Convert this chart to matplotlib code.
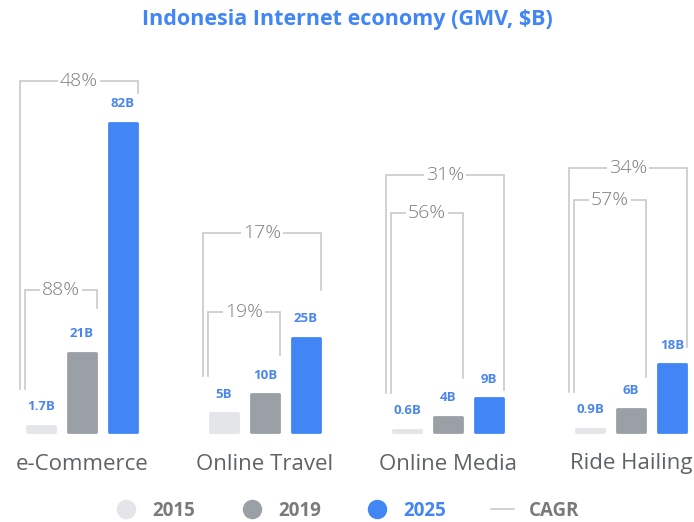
import matplotlib
matplotlib.use('Agg')
import matplotlib.pyplot as plt
from matplotlib.lines import Line2D

# data
categories = ['e-Commerce', 'Online Travel', 'Online Media', 'Ride Hailing']
years = ['2015', '2019', '2025']
gmv_2015 = [1.7, 5, 0.6, 0.9]
gmv_2019 = [21, 10, 4, 6]
gmv_2025 = [82, 25, 9, 18]
labels_2015 = ['1.7B', '5B', '0.6B', '0.9B']
labels_2019 = ['21B', '10B', '4B', '6B']
labels_2025 = ['82B', '25B', '9B', '18B']
cagr_2015_2019 = ['88%', '19%', '56%', '57%']
cagr_2015_2025 = ['48%', '17%', '31%', '34%']

# bracket levels (layout only, in $B units of the y axis)
inner_top = [37.7, 31.8, 58.1, 61.5]
inner_end = [32.9, 20.4, 14.3, 14.6]
outer_top = [93.1, 52.8, 68.2, 70.0]
outer_end = [89.9, 37.7, 11.1, 22.5]

colors = ['#e3e5e8', '#9aa0a6', '#4285f4']
label_blue = '#4a86ec'
line_gray = '#c9c9c9'
text_gray = '#7d7d7d'

plt.rcParams['font.family'] = ['Open Sans', 'DejaVu Sans']

W, H = 694, 522
fig = plt.figure(figsize=(W / 100, H / 100), dpi=100)
ax = fig.add_axes([0, 0, 1, 1])
GX = 183.0   # px per group
GY = 3.77    # px per $B
ax.set_xlim(-82 / GX, (W - 82) / GX)
ax.set_ylim(-90 / GY, (H - 90) / GY)
ax.axis('off')

step = 41 / GX
bw = 28 / GX
series = [gmv_2015, gmv_2019, gmv_2025]
series_labels = [labels_2015, labels_2019, labels_2025]
for j in range(3):
    xs = [i + (j - 1) * step for i in range(len(categories))]
    ax.bar(xs, series[j], width=bw, color=colors[j], edgecolor=colors[j],
           linewidth=2, joinstyle='round')
    for x, v, lab in zip(xs, series[j], series_labels[j]):
        ax.text(x, v + 19 / GY, lab, ha='center', va='center', fontsize=9.5,
                fontweight='bold', color=label_blue)

for i, cat in enumerate(categories):
    ax.text(i, -32 / GY, cat, ha='center', va='center', fontsize=16,
            color='#5f6368')
    left_edge = i - step - bw / 2 - 1 / GX
    bottom = gmv_2015[i] + 37 / GY
    # 2015 -> 2025 bracket
    xl, xr = left_edge - 6 / GX, i + step + bw / 2 + 1 / GX
    ax.plot([xl, xl, xr, xr], [bottom, outer_top[i], outer_top[i], outer_end[i]],
            color=line_gray, lw=1.2, solid_joinstyle='miter')
    ax.text((xl + xr) / 2, outer_top[i], cagr_2015_2025[i], ha='center',
            va='center', fontsize=14, fontweight='light', color=text_gray,
            bbox=dict(boxstyle='square,pad=0.12', fc='white', ec='none'))
    # 2015 -> 2019 bracket
    xl, xr = left_edge - 1 / GX, i + bw / 2 + 1 / GX
    ax.plot([xl, xl, xr, xr], [bottom, inner_top[i], inner_top[i], inner_end[i]],
            color=line_gray, lw=1.2, solid_joinstyle='miter')
    ax.text((xl + xr) / 2, inner_top[i], cagr_2015_2019[i], ha='center',
            va='center', fontsize=14, fontweight='light', color=text_gray,
            bbox=dict(boxstyle='square,pad=0.12', fc='white', ec='none'))

fig.text(0.5, 1 - 20 / H, 'Indonesia Internet economy (GMV, $B)', ha='center',
         va='center', fontsize=15.5, fontweight='bold', color='#4285f4')

handles = [Line2D([], [], ls='none', marker='o', ms=13, color=c) for c in colors]
handles.append(Line2D([], [], color=line_gray, lw=1.2))
leg = fig.legend(handles, years + ['CAGR'], loc='center',
                 bbox_to_anchor=(0.5, 1 - 511 / H), ncol=4, frameon=False,
                 labelcolor=['#7a7a7a', '#7a7a7a', '#4285f4', '#7a7a7a'],
                 prop={'size': 13.5, 'weight': 'bold'}, handlelength=1.2,
                 handletextpad=0.8, columnspacing=2.4)

fig.savefig('out.png', dpi=100, facecolor='white')
